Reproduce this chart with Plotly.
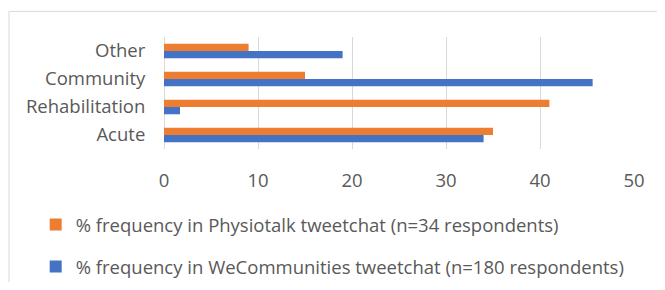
import plotly.graph_objects as go

categories = ["Acute", "Rehabilitation", "Community", "Other"]
physiotalk = [35, 41, 15, 9]
wecommunities = [34, 1.7, 45.6, 19]
x_ticks = [0, 10, 20, 30, 40, 50]
series_names = [
    "% frequency in Physiotalk tweetchat (n=34 respondents)",
    "% frequency in WeCommunities tweetchat (n=180 respondents)",
]

# page has an 8px body margin on every side; size the figure to fit inside it
OFF = 8
W, H = 665 - 2 * OFF, 290 - 2 * OFF
FONT = "Open Sans"
FS = 18.5
TXT = "#595959"
GRID = "#D9D9D9"

PX0, PX1 = 164.3 - OFF, 633.7 - OFF   # plot area left/right (figure px)
PY0, PY1 = 37.3 - OFF, 149.3 - OFF    # plot area top/bottom (figure px)

fig = go.Figure()
fig.add_trace(go.Bar(
    y=categories, x=wecommunities, orientation="h", name=series_names[1],
    marker=dict(color="#4472C4", line=dict(width=0)), legendgroup="b", legendrank=2,
))
fig.add_trace(go.Bar(
    y=categories, x=physiotalk, orientation="h", name=series_names[0],
    marker=dict(color="#ED7D31", line=dict(width=0)), legendgroup="a", legendrank=1,
))

pw, ph = PX1 - PX0, PY1 - PY0
bx0 = (9.5 - OFF - PX0) / pw
by1 = (PY1 - (11.7 - OFF)) / ph
fig.update_layout(
    width=W, height=H,
    margin=dict(l=PX0, r=W - PX1, t=PY0, b=H - PY1, pad=0, autoexpand=False),
    paper_bgcolor="white", plot_bgcolor="white",
    barmode="group", bargap=0.48, bargroupgap=0,
    font=dict(family=FONT, size=FS, color=TXT),
    xaxis=dict(
        range=[0, 50], tickvals=x_ticks, showgrid=True, gridcolor=GRID, gridwidth=1,
        zeroline=True, zerolinecolor=GRID, zerolinewidth=1, showline=False,
        ticks="outside", ticklen=14.5, tickcolor="rgba(0,0,0,0)",
        tickfont=dict(family=FONT, size=FS, color=TXT), fixedrange=True, automargin=False,
    ),
    yaxis=dict(
        showgrid=False, showline=False, zeroline=False,
        ticks="outside", ticklen=14, tickcolor="rgba(0,0,0,0)",
        tickfont=dict(family=FONT, size=FS, color=TXT), automargin=False,
    ),
    showlegend=True,
    legend=dict(
        xref="container", yref="container",
        x=(35.7 - OFF) / W, y=1 - (206 - OFF) / H, xanchor="left", yanchor="top",
        orientation="v", traceorder="grouped", tracegroupgap=15,
        font=dict(family=FONT, size=FS, color=TXT),
        bgcolor="rgba(0,0,0,0)", borderwidth=0,
    ),
    shapes=[
        dict(type="line", xref="paper", yref="paper",
             x0=bx0, x1=(W + 20 - PX0) / pw, y0=by1, y1=by1,
             line=dict(color=GRID, width=1), layer="below"),
        dict(type="line", xref="paper", yref="paper",
             x0=bx0, x1=bx0, y0=by1, y1=(PY1 - (H + 20)) / ph,
             line=dict(color=GRID, width=1), layer="below"),
    ],
)

fig.write_html("out.html")
